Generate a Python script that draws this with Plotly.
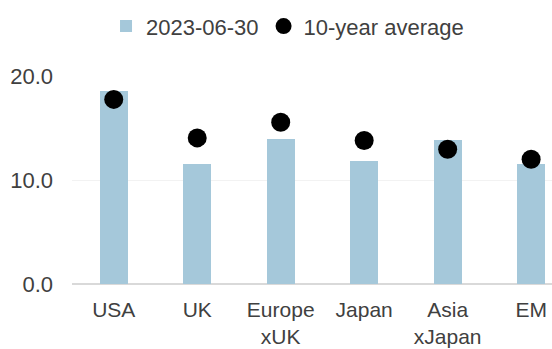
import plotly.graph_objects as go

categories = ["USA", "UK", "Europe<br>xUK", "Japan", "Asia<br>xJapan", "EM"]
current_values = [18.6, 11.5, 13.9, 11.8, 13.8, 11.5]
avg_values = [17.75, 14.05, 15.55, 13.8, 12.95, 12.0]
y_ticks = [0, 10, 20]
y_tick_labels = ["0.0", "10.0", "20.0"]

FONT = "Liberation Sans, Arial, sans-serif"
TXT = "#404040"

fig = go.Figure()
fig.add_trace(go.Bar(
    x=categories, y=current_values, name="2023-06-30",
    marker=dict(color="#A5C8DA", line=dict(width=0)), width=0.336,
))
fig.add_trace(go.Scatter(
    x=categories, y=avg_values, name="10-year average", mode="markers",
    marker=dict(color="black", size=19),
))

fig.update_layout(
    width=552, height=349,
    margin=dict(l=72, r=0, t=76, b=65),
    paper_bgcolor="white", plot_bgcolor="white",
    font=dict(family=FONT, size=22, color=TXT),
    showlegend=True,
    legend=dict(orientation="h", x=0.449, xanchor="center", y=0.985, yanchor="top",
                yref="container", font=dict(size=22, color=TXT), itemwidth=30,
                traceorder="normal", bgcolor="rgba(0,0,0,0)"),
    bargap=0,
)
fig.update_xaxes(
    type="category", range=[-0.5, 5.25], showgrid=False, showline=False,
    ticks="", tickfont=dict(size=21, color=TXT), zeroline=False,
    ticklabelstandoff=11, automargin=False,
)
fig.update_yaxes(
    range=[0, 20], tickvals=y_ticks, ticktext=y_tick_labels,
    showgrid=True, gridcolor="#F2F2F2", gridwidth=1,
    zeroline=True, zerolinecolor="#D9D9D9", zerolinewidth=2,
    showline=False, ticks="", ticklabelstandoff=18,
    tickfont=dict(size=22, color=TXT), automargin=False,
)
fig.write_html("out.html")
